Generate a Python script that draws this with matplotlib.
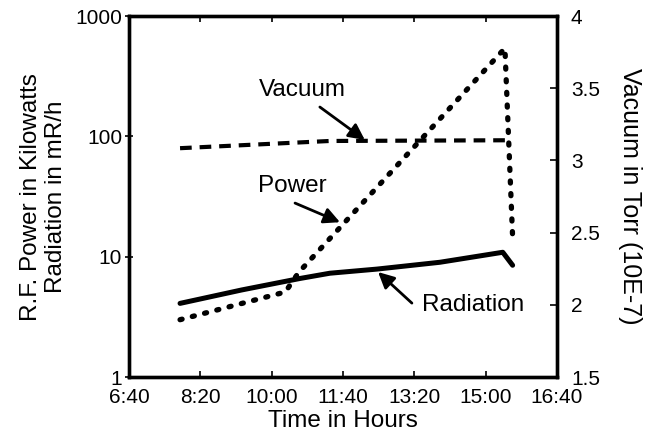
import matplotlib
matplotlib.use("Agg")
import matplotlib.pyplot as plt

plt.rcParams['font.family'] = ['Liberation Sans', 'DejaVu Sans']

# time in decimal hours
tick_hours = [6 + 40/60, 8 + 20/60, 10.0, 11 + 40/60, 13 + 20/60, 15.0, 16 + 40/60]
tick_labels = ["6:40", "8:20", "10:00", "11:40", "13:20", "15:00", "16:40"]

power_t = [7.86, 10.32, 10.63, 15.45, 15.63]
power_kw = [3.0, 5.1, 7.4, 540, 14.5]

rad_t = [7.86, 9.3, 10.66, 11.36, 12.46, 13.93, 15.40, 15.63]
rad_mrh = [4.1, 5.3, 6.6, 7.3, 7.9, 9.0, 10.9, 8.5]

vac_t = [7.86, 11.36, 15.6]
vac_torr = [3.085, 3.135, 3.14]

left_ticks = [1, 10, 100, 1000]
right_ticks = [1.5, 2, 2.5, 3, 3.5, 4]
right_labels = ["1.5", "2", "2.5", "3", "3.5", "4"]

fig = plt.figure(figsize=(6.58, 4.33), dpi=100)
ax = fig.add_axes([0.196, 0.129, 0.6505, 0.834])
ax2 = ax.twinx()

ax.plot(rad_t, rad_mrh, color='black', lw=3.6, solid_capstyle='round', solid_joinstyle='round')
ax.plot(power_t, power_kw, color='black', lw=3.8, linestyle=(0, (0.4, 2.0)), dash_capstyle='round')
ax2.plot(vac_t, vac_torr, color='black', lw=3.0, linestyle=(0, (2.8, 1.9)))

ax.set_yscale('log')
ax.set_ylim(1, 1000)
ax.set_xlim(tick_hours[0], tick_hours[-1])
ax.set_yticks(left_ticks)
ax.set_yticklabels([str(v) for v in left_ticks])
ax.minorticks_off()
ax.set_xticks(tick_hours)
ax.set_xticklabels(tick_labels)

ax2.set_ylim(1.5, 4)
ax2.set_yticks(right_ticks)
ax2.set_yticklabels(right_labels)

for a in (ax, ax2):
    for s in a.spines.values():
        s.set_linewidth(2.4)

ax.tick_params(axis='x', direction='in', top=True, length=4, width=1.2, labelsize=15, pad=8)
ax.tick_params(axis='y', direction='inout', length=6, width=1.2, labelsize=15, pad=2)
ax2.tick_params(axis='y', direction='in', length=5, width=1.2, labelsize=15, pad=10)

ax.set_xlabel("Time in Hours", fontsize=17.5, labelpad=2)
ax.set_ylabel("R.F. Power in Kilowatts\nRadiation in mR/h", fontsize=17.5, labelpad=6, linespacing=1.15)
ax2.set_ylabel("Vacuum in Torr (10E-7)", fontsize=18, rotation=-90, labelpad=30)

arrow = dict(arrowstyle='-|>', color='black', lw=2.0, mutation_scale=24, shrinkA=0, shrinkB=0)
ax.annotate("", xy=(0.551, 0.657), xytext=(0.446, 0.748), xycoords='axes fraction', arrowprops=arrow)
ax.text(0.404, 0.795, "Vacuum", transform=ax.transAxes, fontsize=17.5, ha='center', va='center')
ax.annotate("", xy=(0.493, 0.429), xytext=(0.388, 0.482), xycoords='axes fraction', arrowprops=arrow)
ax.text(0.381, 0.529, "Power", transform=ax.transAxes, fontsize=17.5, ha='center', va='center')
ax.annotate("", xy=(0.582, 0.291), xytext=(0.661, 0.205), xycoords='axes fraction', arrowprops=arrow)
ax.text(0.804, 0.199, "Radiation", transform=ax.transAxes, fontsize=17.5, ha='center', va='center')

fig.savefig("out.png", dpi=100)
